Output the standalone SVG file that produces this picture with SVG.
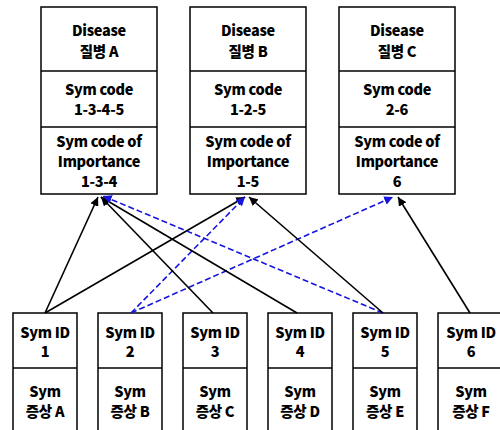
<svg xmlns="http://www.w3.org/2000/svg" width="500" height="430" viewBox="0 0 500 430">
<defs>
<marker id="ah" viewBox="0 0 10 10" refX="10" refY="5" markerWidth="5.5" markerHeight="5.5" orient="auto" markerUnits="strokeWidth"><path d="M0,0 L10,5 L0,10 z" fill="#000"/></marker>
<marker id="ahb" viewBox="0 0 10 10" refX="10" refY="5" markerWidth="5.5" markerHeight="5.5" orient="auto" markerUnits="strokeWidth"><path d="M0,0 L10,5 L0,10 z" fill="#1515e0"/></marker>
<style>
.box{fill:#fff;stroke:#000;stroke-width:1.5}
.div{stroke:#000;stroke-width:1.5}
text{font-family:"Noto Sans CJK KR","Liberation Sans",sans-serif;font-weight:900;font-size:14.5px;letter-spacing:-0.3px;text-anchor:middle;fill:#000}
.solid{stroke:#000;stroke-width:1.6;fill:none;marker-end:url(#ah)}
.dash{stroke:#1515e0;stroke-width:1.6;fill:none;stroke-dasharray:6 3;marker-end:url(#ahb)}
</style>
</defs>
<rect width="500" height="430" fill="#fff"/>
<g id="diseaseA">
<rect class="box" x="41" y="7" width="116" height="187"/>
<line class="div" x1="41" y1="71" x2="157" y2="71"/>
<line class="div" x1="41" y1="127" x2="157" y2="127"/>
<text x="99" y="36">Disease</text><text x="99" y="57">질병 A</text>
<text x="99" y="95">Sym code</text><text x="99" y="115">1-3-4-5</text>
<text x="99" y="147">Sym code of</text><text x="99" y="167">Importance</text><text x="99" y="187">1-3-4</text>
</g>
<g id="diseaseB">
<rect class="box" x="190" y="7" width="116" height="187"/>
<line class="div" x1="190" y1="71" x2="306" y2="71"/>
<line class="div" x1="190" y1="127" x2="306" y2="127"/>
<text x="248" y="36">Disease</text><text x="248" y="57">질병 B</text>
<text x="248" y="95">Sym code</text><text x="248" y="115">1-2-5</text>
<text x="248" y="147">Sym code of</text><text x="248" y="167">Importance</text><text x="248" y="187">1-5</text>
</g>
<g id="diseaseC">
<rect class="box" x="339" y="7" width="116" height="187"/>
<line class="div" x1="339" y1="71" x2="455" y2="71"/>
<line class="div" x1="339" y1="127" x2="455" y2="127"/>
<text x="397" y="36">Disease</text><text x="397" y="57">질병 C</text>
<text x="397" y="95">Sym code</text><text x="397" y="115">2-6</text>
<text x="397" y="147">Sym code of</text><text x="397" y="167">Importance</text><text x="397" y="187">6</text>
</g>
<g id="sym1">
<rect class="box" x="13" y="313" width="64" height="130"/>
<line class="div" x1="13" y1="368" x2="77" y2="368"/>
<text x="45" y="338">Sym ID</text><text x="45" y="357">1</text>
<text x="45" y="397">Sym</text><text x="45" y="417">증상 A</text>
</g>
<g id="sym2">
<rect class="box" x="98" y="313" width="64" height="130"/>
<line class="div" x1="98" y1="368" x2="162" y2="368"/>
<text x="130" y="338">Sym ID</text><text x="130" y="357">2</text>
<text x="130" y="397">Sym</text><text x="130" y="417">증상 B</text>
</g>
<g id="sym3">
<rect class="box" x="183" y="313" width="64" height="130"/>
<line class="div" x1="183" y1="368" x2="247" y2="368"/>
<text x="215" y="338">Sym ID</text><text x="215" y="357">3</text>
<text x="215" y="397">Sym</text><text x="215" y="417">증상 C</text>
</g>
<g id="sym4">
<rect class="box" x="268" y="313" width="64" height="130"/>
<line class="div" x1="268" y1="368" x2="332" y2="368"/>
<text x="300" y="338">Sym ID</text><text x="300" y="357">4</text>
<text x="300" y="397">Sym</text><text x="300" y="417">증상 D</text>
</g>
<g id="sym5">
<rect class="box" x="353" y="313" width="64" height="130"/>
<line class="div" x1="353" y1="368" x2="417" y2="368"/>
<text x="385" y="338">Sym ID</text><text x="385" y="357">5</text>
<text x="385" y="397">Sym</text><text x="385" y="417">증상 E</text>
</g>
<g id="sym6">
<rect class="box" x="438" y="313" width="64" height="130"/>
<line class="div" x1="438" y1="368" x2="502" y2="368"/>
<text x="471" y="338">Sym ID</text><text x="471" y="357">6</text>
<text x="471" y="397">Sym</text><text x="471" y="417">증상 F</text>
</g>
<g id="connectors">
<line class="solid" x1="45" y1="313" x2="98" y2="197"/>
<line class="solid" x1="45" y1="313" x2="245" y2="197"/>
<line class="dash" x1="131" y1="313" x2="245" y2="197"/>
<line class="dash" x1="131" y1="313" x2="393" y2="197"/>
<line class="solid" x1="213" y1="313" x2="101" y2="197"/>
<line class="solid" x1="297" y1="313" x2="101" y2="197"/>
<line class="dash" x1="383" y1="313" x2="103" y2="196"/>
<line class="solid" x1="383" y1="313" x2="249" y2="197"/>
<line class="solid" x1="470" y1="313" x2="398" y2="197"/>
</g>
</svg>
